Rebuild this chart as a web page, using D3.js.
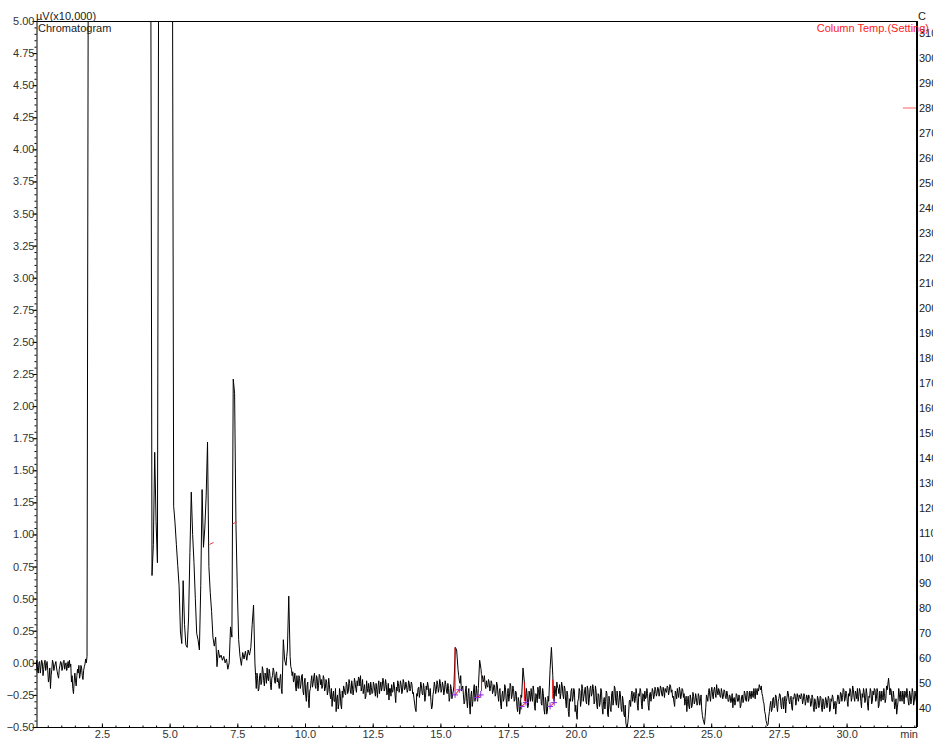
<!DOCTYPE html>
<html><head><meta charset="utf-8">
<script src="https://cdn.jsdelivr.net/npm/d3@7"></script>
<style>
body{margin:0;background:#fff;overflow:hidden}
svg{display:block}
text{font-family:"Liberation Sans",Arial,sans-serif;font-size:11px}
</style>
</head><body>
<script>
// ---- DATA ----
const sampleInterval = 0.05; // min between readings in `signal`
// detector signal, uV (x10,000), one reading every 0.05 min from 0.00 min
const signal = [
 -0.05,-0.1,0.02,-0.08,0.01,-0.03,0.0,-0.05,0.02,-0.02,        // 0.0
 -0.06,-0.12,-0.2,-0.05,0.0,-0.03,0.01,-0.07,-0.12,-0.02,      // 0.5
 0.0,-0.04,0.02,-0.02,-0.06,0.01,0.02,-0.01,-0.1,-0.24,        // 1.0
 -0.08,-0.18,-0.05,-0.02,-0.09,-0.04,-0.13,-0.03,0.03,0.05,    // 1.5
 6,6,6,6,6,6,6,6,6,6,                                          // 2.0
 6,6,6,6,6,6,6,6,6,6,                                          // 2.5
 6,6,6,6,6,6,6,6,6,6,                                          // 3.0
 6,6,6,6,6,6,6,6,6,6,                                          // 3.5
 6,6,6,6,6,6,6,0.68,0.92,1.64,                                 // 4.0
 1.1,0.78,6,6,6,6,6,6,6,6,                                     // 4.5
 6,6,6,1.22,1.09,0.92,0.76,0.6,0.24,0.15,                      // 5.0
 0.64,0.3,0.14,0.12,0.35,0.86,1.33,1.0,0.78,0.5,               // 5.5
 0.23,0.18,0.1,0.6,1.35,0.9,1.05,1.3,1.72,0.75,                // 6.0
 0.55,0.4,0.2,0.13,0.2,-0.03,0.1,0.04,0.06,0.02,               // 6.5
 0.05,0.0,0.03,-0.05,0.0,0.28,0.2,2.21,2.1,1.08,               // 7.0
 0.58,0.18,0.05,-0.02,0.08,0.03,0.09,0.02,0.1,0.06,            // 7.5
 0.12,0.3,0.45,0.0,-0.2,-0.12,-0.2,-0.08,-0.15,-0.06,          // 8.0
 -0.18,-0.1,-0.04,-0.14,-0.08,-0.21,-0.1,-0.06,-0.16,-0.07,    // 8.5
 -0.12,-0.2,-0.09,-0.24,0.18,0.02,-0.02,0.1,0.52,0.05,         // 9.0
 -0.05,-0.07,-0.13,-0.18,-0.1,-0.2,-0.12,-0.17,-0.09,-0.25,    // 9.5
 -0.12,-0.3,-0.15,-0.35,-0.2,-0.1,-0.16,-0.08,-0.2,-0.12,      // 10.0
 -0.18,-0.1,-0.13,-0.18,-0.12,-0.2,-0.15,-0.22,-0.17,-0.28,    // 10.5
 -0.34,-0.22,-0.3,-0.38,-0.25,-0.32,-0.24,-0.36,-0.27,-0.2,    // 11.0
 -0.25,-0.17,-0.22,-0.16,-0.24,-0.18,-0.21,-0.15,-0.23,-0.18,  // 11.5
 -0.12,-0.1,-0.19,-0.24,-0.17,-0.26,-0.2,-0.16,-0.25,-0.19,    // 12.0
 -0.23,-0.17,-0.26,-0.21,-0.18,-0.24,-0.15,-0.19,-0.14,-0.2,   // 12.5
 -0.17,-0.23,-0.29,-0.2,-0.17,-0.22,-0.18,-0.31,-0.22,-0.16,   // 13.0
 -0.2,-0.17,-0.22,-0.15,-0.2,-0.18,-0.21,-0.16,-0.2,-0.17,     // 13.5
 -0.23,-0.32,-0.38,-0.26,-0.19,-0.22,-0.18,-0.25,-0.2,-0.27,   // 14.0
 -0.21,-0.18,-0.24,-0.3,-0.34,-0.22,-0.18,-0.21,-0.17,-0.2,    // 14.5
 -0.16,-0.21,-0.18,-0.22,-0.17,-0.24,-0.2,-0.27,-0.2,-0.25,    // 15.0
 -0.18,0.12,0.1,-0.05,-0.14,-0.1,-0.2,-0.25,-0.3,-0.18,        // 15.5
 -0.35,-0.2,-0.4,-0.22,-0.3,-0.17,-0.27,-0.24,-0.2,0.02,       // 16.0
 -0.05,-0.1,-0.13,-0.17,-0.14,-0.19,-0.15,-0.2,-0.16,-0.22,    // 16.5
 -0.18,-0.24,-0.17,-0.3,-0.2,-0.36,-0.22,-0.28,-0.19,-0.34,    // 17.0
 -0.2,-0.26,-0.18,-0.25,-0.2,-0.29,-0.23,-0.38,-0.3,-0.36,     // 17.5
 -0.27,-0.04,-0.15,-0.3,-0.24,-0.33,-0.25,-0.2,-0.3,-0.22,     // 18.0
 -0.37,-0.26,-0.19,-0.28,-0.21,-0.33,-0.24,-0.4,-0.3,-0.38,    // 18.5
 -0.3,-0.05,0.12,-0.1,-0.3,-0.22,-0.15,-0.2,-0.17,-0.24,       // 19.0
 -0.18,-0.28,-0.2,-0.35,-0.25,-0.42,-0.3,-0.2,-0.27,-0.22,     // 19.5
 -0.33,-0.44,-0.28,-0.22,-0.3,-0.2,-0.26,-0.19,-0.32,-0.21,    // 20.0
 -0.28,-0.18,-0.24,-0.2,-0.3,-0.22,-0.36,-0.25,-0.31,-0.22,    // 20.5
 -0.4,-0.27,-0.3,-0.24,-0.42,-0.3,-0.38,-0.22,-0.29,-0.2,      // 21.0
 -0.33,-0.27,-0.3,-0.25,-0.38,-0.3,-0.42,-0.47,-0.5,-0.4,      // 21.5
 -0.29,-0.25,-0.3,-0.23,-0.28,-0.24,-0.37,-0.26,-0.22,-0.36,   // 22.0
 -0.25,-0.22,-0.27,-0.24,-0.37,-0.23,-0.26,-0.22,-0.25,-0.21,  // 22.5
 -0.24,-0.2,-0.23,-0.2,-0.26,-0.22,-0.2,-0.23,-0.19,-0.22,     // 23.0
 -0.18,-0.21,-0.26,-0.34,-0.24,-0.2,-0.27,-0.22,-0.25,-0.21,   // 23.5
 -0.24,-0.3,-0.38,-0.26,-0.36,-0.28,-0.33,-0.26,-0.3,-0.27,    // 24.0
 -0.32,-0.26,-0.3,-0.36,-0.44,-0.48,-0.35,-0.27,-0.23,-0.26,   // 24.5
 -0.22,-0.25,-0.21,-0.24,-0.17,-0.25,-0.22,-0.27,-0.23,-0.26,  // 25.0
 -0.22,-0.28,-0.24,-0.3,-0.26,-0.29,-0.35,-0.27,-0.31,-0.25,   // 25.5
 -0.3,-0.27,-0.33,-0.25,-0.29,-0.24,-0.3,-0.23,-0.28,-0.25,    // 26.0
 -0.22,-0.27,-0.24,-0.2,-0.25,-0.22,-0.19,-0.18,-0.26,-0.32,   // 26.5
 -0.4,-0.47,-0.48,-0.38,-0.3,-0.36,-0.27,-0.33,-0.26,-0.38,    // 27.0
 -0.28,-0.25,-0.36,-0.27,-0.3,-0.39,-0.27,-0.24,-0.32,-0.26,   // 27.5
 -0.37,-0.28,-0.25,-0.3,-0.27,-0.25,-0.28,-0.26,-0.29,-0.26,   // 28.0
 -0.3,-0.27,-0.25,-0.28,-0.32,-0.27,-0.38,-0.3,-0.34,-0.28,    // 28.5
 -0.32,-0.27,-0.38,-0.3,-0.33,-0.29,-0.31,-0.28,-0.36,-0.3,    // 29.0
 -0.27,-0.33,-0.4,-0.3,-0.26,-0.3,-0.24,-0.27,-0.21,-0.28,     // 29.5
 -0.24,-0.34,-0.26,-0.22,-0.27,-0.21,-0.3,-0.24,-0.2,-0.26,    // 30.0
 -0.22,-0.35,-0.27,-0.23,-0.29,-0.24,-0.37,-0.27,-0.22,-0.3,   // 30.5
 -0.25,-0.21,-0.28,-0.23,-0.33,-0.26,-0.22,-0.29,-0.24,-0.28,  // 31.0
 -0.21,-0.12,-0.25,-0.22,-0.3,-0.27,-0.33,-0.4,-0.3,-0.25,     // 31.5
 -0.22,-0.3,-0.26,-0.22,-0.27,-0.24,-0.33,-0.25,-0.28,-0.23,   // 32.0
 -0.3,-0.26,-0.28                                              // 32.5
];
// extra readings half-way between the ones above (t = i*0.05 + 0.025 min); null = not read
const signalHalf = [
 -0.12,-0.03,-0.06,0.0,-0.08,0.02,-0.1,0.0,-0.06,0.01,          // 0.0
 -0.15,-0.04,-0.1,0.02,-0.06,-0.01,-0.04,-0.1,-0.05,0.01,       // 0.5
 -0.06,0.01,-0.05,0.0,-0.03,-0.04,-0.03,-0.15,-0.2,-0.15,       // 1.0
 -0.14,-0.1,-0.08,-0.12,-0.02,-0.1,-0.06,-0.01,0.0,null,        // 1.5
 null,null,null,null,null,null,null,null,null,null,             // 2.0
 null,null,null,null,null,null,null,null,null,null,             // 2.5
 null,null,null,null,null,null,null,null,null,null,             // 3.0
 null,null,null,null,null,null,null,null,null,null,             // 3.5
 null,null,null,null,null,null,null,null,null,null,             // 4.0
 null,null,null,null,null,null,null,null,null,null,             // 4.5
 null,null,null,null,null,null,null,null,null,null,             // 5.0
 null,null,null,null,null,null,null,null,null,null,             // 5.5
 null,null,null,null,null,null,null,null,null,null,             // 6.0
 null,null,null,null,null,null,null,null,null,null,             // 6.5
 null,null,null,null,null,null,null,null,null,null,             // 7.0
 null,null,null,null,null,null,null,null,null,null,             // 7.5
 null,null,null,-0.1,-0.08,-0.22,-0.1,-0.17,-0.03,-0.14,        // 8.0
 -0.08,-0.16,-0.12,-0.05,-0.17,-0.12,-0.04,-0.14,-0.09,-0.15,   // 8.5
 -0.16,-0.12,-0.2,null,null,0.0,0.05,null,null,-0.03,           // 9.0
 -0.1,-0.15,-0.08,-0.22,-0.16,-0.1,-0.2,-0.1,-0.22,-0.15,       // 9.5
 -0.25,-0.18,-0.28,-0.22,-0.14,-0.19,-0.11,-0.18,-0.1,-0.22,    // 10.0
 -0.09,-0.17,-0.2,-0.1,-0.22,-0.13,-0.25,-0.12,-0.25,-0.2,      // 10.5
 -0.26,-0.3,-0.2,-0.28,-0.36,-0.2,-0.33,-0.22,-0.18,-0.24,      // 11.0
 -0.15,-0.24,-0.13,-0.22,-0.14,-0.25,-0.12,-0.2,-0.14,-0.11,    // 11.5
 -0.18,-0.22,-0.13,-0.2,-0.28,-0.14,-0.23,-0.2,-0.15,-0.24,     // 12.0
 -0.15,-0.22,-0.16,-0.27,-0.14,-0.19,-0.22,-0.12,-0.22,-0.13,   // 12.5
 -0.25,-0.16,-0.2,-0.26,-0.23,-0.15,-0.25,-0.19,-0.14,-0.23,    // 13.0
 -0.14,-0.24,-0.13,-0.21,-0.15,-0.23,-0.14,-0.22,-0.15,-0.24,   // 13.5
 -0.28,-0.36,-0.24,-0.2,-0.27,-0.15,-0.24,-0.16,-0.3,-0.18,     // 14.0
 -0.15,-0.26,-0.2,-0.36,-0.25,-0.15,-0.24,-0.14,-0.23,-0.13,    // 14.5
 -0.23,-0.15,-0.25,-0.14,-0.22,-0.16,-0.3,-0.17,-0.28,-0.22,    // 15.0
 null,null,null,-0.1,-0.16,-0.22,-0.18,-0.32,-0.22,-0.3,        // 15.5
 -0.24,-0.33,-0.26,-0.34,-0.21,-0.3,-0.18,-0.3,null,null,       // 16.0
 -0.12,-0.15,-0.1,-0.2,-0.18,-0.13,-0.22,-0.14,-0.24,-0.17,     // 16.5
 -0.26,-0.15,-0.25,-0.22,-0.32,-0.25,-0.3,-0.17,-0.28,-0.24,    // 17.0
 -0.3,-0.16,-0.28,-0.18,-0.3,-0.22,-0.34,-0.27,-0.4,-0.25,      // 17.5
 null,null,-0.26,-0.2,-0.35,-0.22,-0.3,-0.26,-0.18,-0.34,       // 18.0
 -0.24,-0.31,-0.23,-0.18,-0.32,-0.2,-0.36,-0.27,-0.4,-0.26,     // 18.5
 null,null,null,-0.24,-0.18,-0.26,-0.19,-0.24,-0.28,-0.15,      // 19.0
 -0.25,-0.18,-0.3,-0.22,-0.38,-0.28,-0.22,-0.3,-0.2,-0.38,      // 19.5
 -0.4,-0.3,-0.2,-0.34,-0.17,-0.3,-0.22,-0.3,-0.18,-0.33,        // 20.0
 -0.2,-0.26,-0.17,-0.32,-0.18,-0.33,-0.24,-0.34,-0.2,-0.35,     // 20.5
 -0.3,-0.36,-0.22,-0.4,-0.26,-0.36,-0.24,-0.33,-0.18,-0.3,      // 21.0
 -0.22,-0.35,-0.22,-0.36,-0.26,-0.4,-0.33,-0.5,-0.46,-0.3,      // 21.5
 -0.34,-0.22,-0.26,-0.31,-0.2,-0.33,-0.24,-0.2,-0.32,-0.24,     // 22.0
 -0.3,-0.28,-0.2,-0.33,-0.25,-0.3,-0.2,-0.28,-0.19,-0.26,       // 22.5
 -0.19,-0.26,-0.18,-0.25,-0.19,-0.27,-0.22,-0.18,-0.25,-0.17,   // 23.0
 -0.23,-0.27,-0.31,-0.22,-0.28,-0.24,-0.19,-0.28,-0.2,-0.27,    // 23.5
 -0.33,-0.26,-0.3,-0.34,-0.25,-0.35,-0.23,-0.32,-0.24,-0.33,    // 24.0
 -0.24,-0.33,-0.25,-0.41,-0.46,-0.42,-0.25,-0.3,-0.2,-0.3,      // 24.5
 -0.19,-0.28,-0.19,-0.27,-0.22,-0.2,-0.26,-0.2,-0.28,-0.21,     // 25.0
 -0.27,-0.22,-0.3,-0.25,-0.31,-0.24,-0.28,-0.33,-0.24,-0.3,     // 25.5
 -0.25,-0.35,-0.26,-0.31,-0.22,-0.29,-0.22,-0.3,-0.22,-0.28,    // 26.0
 -0.25,-0.2,-0.28,-0.23,-0.2,-0.17,-0.21,-0.24,-0.3,-0.38,      // 26.5
 -0.45,-0.49,-0.42,-0.33,-0.38,-0.28,-0.35,-0.25,-0.34,-0.3,    // 27.0
 -0.24,-0.33,-0.28,-0.36,-0.26,-0.3,-0.22,-0.3,-0.27,-0.35,     // 27.5
 -0.27,-0.24,-0.33,-0.24,-0.3,-0.27,-0.24,-0.32,-0.24,-0.33,    // 28.0
 -0.25,-0.31,-0.27,-0.34,-0.25,-0.35,-0.28,-0.36,-0.26,-0.35,   // 28.5
 -0.26,-0.35,-0.28,-0.36,-0.27,-0.35,-0.26,-0.38,-0.28,-0.25,   // 29.0
 -0.36,-0.3,-0.33,-0.25,-0.32,-0.23,-0.3,-0.2,-0.3,-0.22,       // 29.5
 -0.3,-0.24,-0.2,-0.3,-0.18,-0.27,-0.22,-0.28,-0.3,-0.2,        // 30.0
 -0.3,-0.24,-0.2,-0.31,-0.2,-0.33,-0.26,-0.2,-0.32,-0.22,       // 30.5
 -0.2,-0.3,-0.2,-0.35,-0.22,-0.3,-0.27,-0.2,-0.31,-0.18,        // 31.0
 null,null,-0.2,-0.3,-0.22,-0.36,-0.28,-0.35,-0.2,-0.3,         // 31.5
 -0.27,-0.22,-0.32,-0.24,-0.2,-0.3,-0.22,-0.32,-0.2,-0.33,      // 32.0
 -0.22,-0.3                                                     // 32.5
];

// integration: peak start / end points (purple markers) and drop lines (red)
const peakStartT = [15.54, 16.36, 18.00, 19.05];
const peakStartV = [-0.25, -0.27, -0.34, -0.34];
const peakEndT   = [15.70, 16.49, 18.16, 19.20];
const peakEndV   = [-0.21, -0.25, -0.31, -0.31];
const dropT      = [15.54, 16.52, 18.10, 19.15];
const dropTopV   = [0.12, -0.08, -0.15, -0.13];
const dropBotV   = [-0.22, -0.22, -0.30, -0.28];
const smallRedT  = [7.40, 6.55];
const smallRedV  = [1.09, 0.93];

// column temperature setting (degC)
const tempT = [32.08, 32.6];
const tempV = [280, 280];

const yTicks = [-0.5,-0.25,0,0.25,0.5,0.75,1,1.25,1.5,1.75,2,2.25,2.5,2.75,3,3.25,3.5,3.75,4,4.25,4.5,4.75,5];
const xTicks = [2.5,5,7.5,10,12.5,15,17.5,20,22.5,25,27.5,30];
const tempTicks = [40,50,60,70,80,90,100,110,120,130,140,150,160,170,180,190,200,210,220,230,240,250,260,270,280,290,300,310];

// ---- CHART ----
const W = 933, H = 738;
const L = 36, R = 917, T = 21, B = 727;

const svg = d3.select("body").append("svg").attr("width", W).attr("height", H);

const x = d3.scaleLinear().domain([0.066, 32.6]).range([L, R]);
const y = d3.scaleLinear().domain([-0.5, 5.0]).range([B, T]);
const yT = d3.scaleLinear().domain([32.4, 314.8]).range([B, T]);

svg.append("clipPath").attr("id", "plot")
  .append("rect").attr("x", L).attr("y", T).attr("width", R - L).attr("height", B - T);

const data = [];
signal.forEach((v, i) => {
  data.push({t: i * sampleInterval, v});
  const h = signalHalf[i];
  if (h !== null && h !== undefined) data.push({t: i * sampleInterval + sampleInterval / 2, v: h});
});

const line = d3.line().x(d => x(d.t)).y(d => y(d.v));

svg.append("path").datum(data)
  .attr("clip-path", "url(#plot)")
  .attr("d", line)
  .attr("fill", "none").attr("stroke", "#000").attr("stroke-width", 1)
  .attr("stroke-linejoin", "miter");

// integration marks
const g = svg.append("g").attr("clip-path", "url(#plot)");
peakStartT.forEach((t, i) => {
  g.append("line")
    .attr("x1", x(t)).attr("y1", y(peakStartV[i]))
    .attr("x2", x(peakEndT[i])).attr("y2", y(peakEndV[i]))
    .attr("stroke", "#ff0000").attr("stroke-width", 1);
  g.append("line")
    .attr("x1", x(dropT[i])).attr("y1", y(dropTopV[i]))
    .attr("x2", x(dropT[i])).attr("y2", y(dropBotV[i]))
    .attr("stroke", "#ff0000").attr("stroke-width", 1);
});
const markers = peakStartT.map((t, i) => ({t, v: peakStartV[i]}))
  .concat(peakEndT.map((t, i) => ({t, v: peakEndV[i]})));
markers.forEach(m => {
  const cx = x(m.t), cy = y(m.v);
  g.append("path")
    .attr("d", `M${cx - 3},${cy}H${cx + 3}M${cx},${cy - 4}V${cy + 3}`)
    .attr("fill", "none").attr("stroke", "#8a2be2").attr("stroke-width", 1);
});
smallRedT.forEach((t, i) => {
  g.append("line")
    .attr("x1", x(t) - 2).attr("x2", x(t) + 2)
    .attr("y1", y(smallRedV[i]) + 1).attr("y2", y(smallRedV[i]) - 1)
    .attr("stroke", "#ff3030").attr("stroke-width", 1);
});

// temperature setting trace
const tData = tempT.map((t, i) => ({t, v: tempV[i]}));
svg.append("path").datum(tData)
  .attr("d", d3.line().x(d => x(d.t)).y(d => yT(d.v)))
  .attr("fill", "none").attr("stroke", "#ff6060").attr("stroke-width", 1);

// frame: top border
svg.append("line").attr("x1", L).attr("x2", R).attr("y1", T + 0.5).attr("y2", T + 0.5)
  .attr("stroke", "#000").attr("stroke-width", 1);

// left axis
const minorY = d3.range(-0.5, 5.0001, 0.05);
const yMinor = svg.append("g").attr("transform", `translate(${L + 0.5},0)`)
  .call(d3.axisLeft(y).tickValues(minorY).tickSize(2).tickFormat(""));
yMinor.select(".domain").attr("stroke", "#000");
const yAx = svg.append("g").attr("transform", `translate(${L + 0.5},0)`)
  .call(d3.axisLeft(y).tickValues(yTicks).tickSize(4).tickPadding(-2).tickFormat(d3.format(".2f")));
yAx.select(".domain").remove();
yAx.selectAll("text").attr("fill", "#333").style("font-size", "11px");

// bottom axis
const minorX = d3.range(0.5, 32.6, 0.5);
const xMinor = svg.append("g").attr("transform", `translate(0,${B + 0.5})`)
  .call(d3.axisBottom(x).tickValues(minorX).tickSize(-2).tickFormat(""));
xMinor.select(".domain").attr("stroke", "#000").attr("d", `M${L},0H${R}`);
const xAx = svg.append("g").attr("transform", `translate(0,${B + 0.5})`)
  .call(d3.axisBottom(x).tickValues(xTicks).tickSize(-4).tickPadding(3).tickFormat(d3.format(".1f")));
xAx.select(".domain").remove();
xAx.selectAll("text").attr("fill", "#333").style("font-size", "11px");

svg.append("text").attr("x", R + 1).attr("y", 738).attr("text-anchor", "end")
  .attr("fill", "#333").text("min");

// right axis (temperature)
svg.append("line").attr("x1", R).attr("x2", R).attr("y1", T).attr("y2", B)
  .attr("stroke", "#000").attr("stroke-width", 2);
const yRAx = svg.append("g").attr("transform", `translate(${R},0)`)
  .call(d3.axisRight(yT).tickValues(tempTicks).tickSize(0).tickPadding(2).tickFormat(d3.format("d")));
yRAx.select(".domain").remove();
yRAx.selectAll("text").attr("fill", "#222").style("font-size", "11px");

// labels
svg.append("text").attr("x", L).attr("y", 20).attr("fill", "#222").text("µV(x10,000)");
svg.append("text").attr("x", L + 2).attr("y", 32).attr("fill", "#222").text("Chromatogram");
svg.append("text").attr("x", 929).attr("y", 32).attr("text-anchor", "end")
  .attr("fill", "#ff2020").text("Column Temp.(Setting)");
svg.append("text").attr("x", R + 1).attr("y", 20).attr("fill", "#222").text("C");
</script>
</body></html>
